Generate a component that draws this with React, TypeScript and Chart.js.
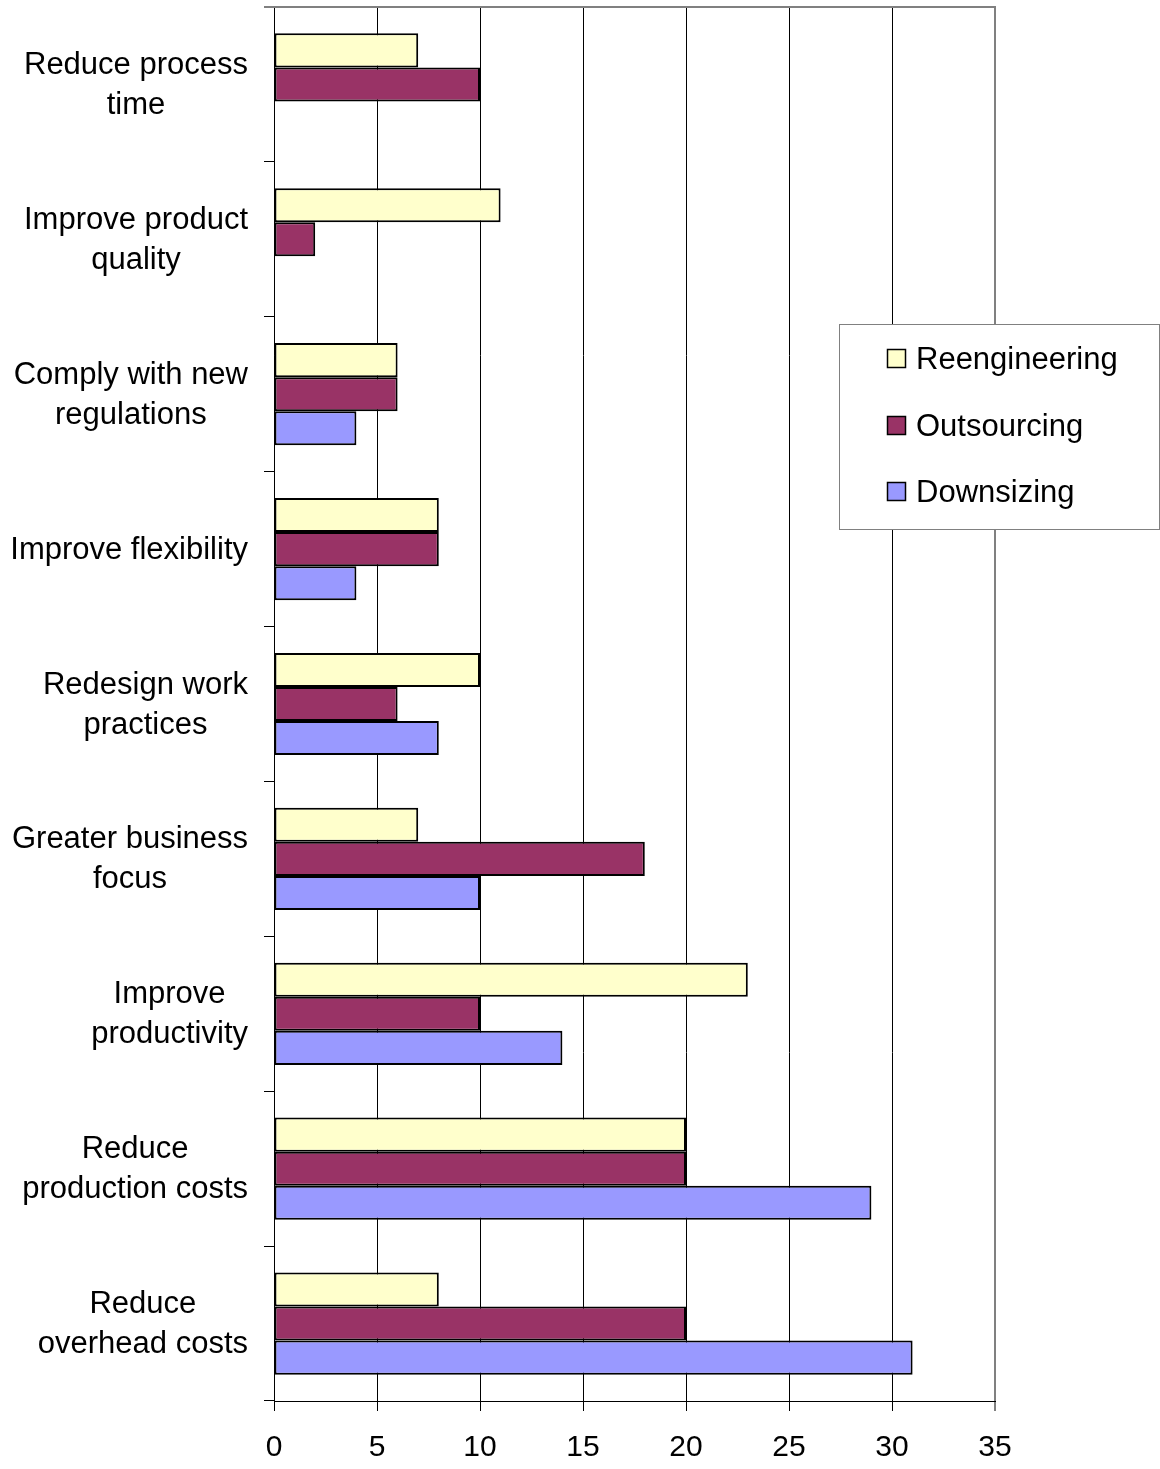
import React, { useEffect, useRef } from "react";
import { Chart, registerables } from "chart.js";

Chart.register(...registerables);

const FONT = '"Liberation Sans", Arial, Helvetica, sans-serif';

const categories: string[][] = [
  ["Reduce process", "time"],
  ["Improve product", "quality"],
  ["Comply with new", "regulations"],
  ["Improve flexibility"],
  ["Redesign work", "practices"],
  ["Greater business", "focus"],
  ["Improve", "productivity"],
  ["Reduce", "production costs"],
  ["Reduce", "overhead costs"],
];

const reengineering: (number | null)[] = [7, 11, 6, 8, 10, 7, 23, 20, 8];
const outsourcing: (number | null)[] = [10, 2, 6, 8, 6, 18, 10, 20, 20];
const downsizing: (number | null)[] = [null, null, 4, 4, 8, 10, 14, 29, 31];

const seriesNames = ["Reengineering", "Outsourcing", "Downsizing"];
const seriesColors = ["#FFFFCC", "#993366", "#9999FF"];

const xMin = 0;
const xMax = 35;
const xStep = 5;

const yLabelsPlugin = {
  id: "yLabelsBlock",
  afterDraw(chart: any) {
    const ctx = chart.ctx;
    const y = chart.scales.y;
    ctx.save();
    ctx.font = `31px ${FONT}`;
    ctx.fillStyle = "#000";
    ctx.textAlign = "center";
    ctx.textBaseline = "middle";
    const right = y.right - 26;
    const lh = 40;
    (chart.data.labels as string[][]).forEach((lines, i) => {
      const cy = y.getPixelForValue(i) + 1;
      const w = Math.max(...lines.map((l) => ctx.measureText(l).width));
      const cx = right - w / 2;
      lines.forEach((l, j) => {
        ctx.fillText(l, cx, cy + (j - (lines.length - 1) / 2) * lh);
      });
    });
    ctx.restore();
  },
};

const plotBorderPlugin = {
  id: "plotBorder",
  beforeDatasetsDraw(chart: any) {
    const ctx = chart.ctx;
    const a = chart.chartArea;
    ctx.save();
    ctx.strokeStyle = "#808080";
    ctx.lineWidth = 2;
    ctx.beginPath();
    ctx.moveTo(a.left - 10, a.top);
    ctx.lineTo(a.right + 1, a.top);
    ctx.stroke();
    ctx.restore();
  },
};

const boxLegendPlugin = {
  id: "boxLegend",
  afterDraw(chart: any) {
    const ctx = chart.ctx;
    const bx = 839.5;
    const by = 324.5;
    const bw = 320;
    const bh = 205;
    ctx.save();
    ctx.fillStyle = "#fff";
    ctx.fillRect(bx, by, bw, bh);
    ctx.strokeStyle = "#808080";
    ctx.lineWidth = 1;
    ctx.strokeRect(bx, by, bw, bh);
    ctx.font = `31px ${FONT}`;
    ctx.textAlign = "left";
    ctx.textBaseline = "middle";
    chart.data.datasets.forEach((ds: any, i: number) => {
      const cy = Math.round(359 + i * 66.5);
      ctx.fillStyle = ds.backgroundColor;
      ctx.fillRect(887.5, cy - 9.5, 18, 18);
      ctx.strokeStyle = "#000";
      ctx.lineWidth = 1.5;
      ctx.strokeRect(887.5, cy - 9.5, 18, 18);
      ctx.fillStyle = "#000";
      ctx.fillText(ds.label, 916, cy + 1);
    });
    ctx.restore();
  },
};

export default function App() {
  const canvasRef = useRef<HTMLCanvasElement | null>(null);

  useEffect(() => {
    if (!canvasRef.current) return;
    const seriesData = [reengineering, outsourcing, downsizing];
    const chart = new Chart(canvasRef.current, {
      type: "bar",
      data: {
        labels: categories as any,
        datasets: seriesNames.map((name, i) => ({
          label: name,
          data: seriesData[i] as any,
          backgroundColor: seriesColors[i],
          borderColor: "#000",
          borderWidth: 2,
          borderSkipped: false,
          inflateAmount: 0,
          categoryPercentage: 0.66,
          barPercentage: 1,
        })),
      },
      options: {
        indexAxis: "y",
        responsive: false,
        animation: false,
        devicePixelRatio: 1,
        layout: { padding: { top: 7, right: 165, bottom: 0, left: 0 } },
        plugins: {
          legend: { display: false },
          tooltip: { enabled: false },
          title: { display: false },
        },
        scales: {
          x: {
            type: "linear",
            position: "bottom",
            min: xMin,
            max: xMax,
            ticks: {
              stepSize: xStep,
              color: "#000",
              padding: 19,
              font: { family: FONT, size: 30 },
            },
            grid: {
              color: (c: any) => (c.tick && c.tick.value === xMax ? "#808080" : "#000"),
              lineWidth: (c: any) => (c.tick && c.tick.value === xMax ? 2 : 1),
              tickColor: "#000",
              tickWidth: 1,
              tickLength: 10,
              drawTicks: true,
            },
            border: { display: true, color: "#000", width: 1 },
            afterFit: (scale: any) => {
              scale.height = 68;
            },
          },
          y: {
            type: "category",
            position: "left",
            ticks: { display: false },
            grid: {
              offset: true,
              drawOnChartArea: false,
              drawTicks: true,
              tickLength: 10,
              color: "#000",
              tickColor: "#000",
            },
            border: { display: true, color: "#000", width: 1 },
            afterFit: (scale: any) => {
              scale.width = 274;
            },
          },
        },
      },
      plugins: [plotBorderPlugin, yLabelsPlugin, boxLegendPlugin],
    } as any);
    return () => chart.destroy();
  }, []);

  return (
    <div style={{ position: "absolute", left: 0, top: 0, width: 1160, height: 1469, background: "#fff" }}>
      <canvas ref={canvasRef} width={1160} height={1469} style={{ display: "block", width: 1160, height: 1469 }} />
    </div>
  );
}
